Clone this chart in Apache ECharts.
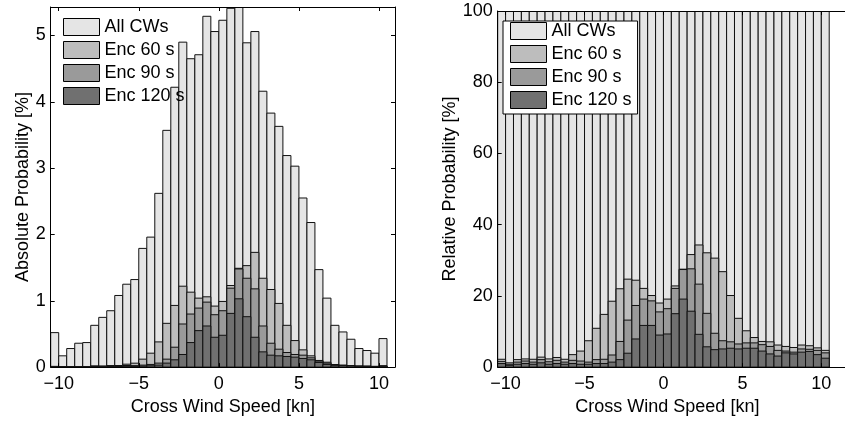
<!DOCTYPE html>
<html>
<head>
<meta charset="utf-8">
<script src="https://cdn.jsdelivr.net/npm/echarts@6/dist/echarts.min.js"></script>
<style>
  html, body { margin: 0; padding: 0; background: #fff; }
  #chart { width: 845px; height: 421px; }
</style>
</head>
<body>
<div id="chart"></div>
<script>
// ---------- data ----------
const binCenters = [-10.25,-9.75,-9.25,-8.75,-8.25,-7.75,-7.25,-6.75,-6.25,-5.75,-5.25,
  -4.75,-4.25,-3.75,-3.25,-2.75,-2.25,-1.75,-1.25,-0.75,-0.25,
  0.25,0.75,1.25,1.75,2.25,2.75,3.25,3.75,4.25,4.75,5.25,5.75,6.25,6.75,
  7.25,7.75,8.25,8.75,9.25,9.75,10.25];
const binWidth = 0.5;
const seriesNames = ['All CWs', 'Enc 60 s', 'Enc 90 s', 'Enc 120 s'];

// Absolute probability [%]
const absAll = [0.52,0.17,0.28,0.36,0.37,0.63,0.75,0.85,1.08,1.25,1.32,
  1.79,1.96,2.62,3.57,4.22,4.90,4.65,4.71,5.29,5.06,
  5.23,5.41,5.43,4.89,5.06,4.16,3.83,3.63,3.19,3.03,2.55,2.18,1.47,1.04,
  0.63,0.53,0.42,0.28,0.25,0.21,0.43];
const abs60 = [0.011,0.002,0.006,0.008,0.008,0.018,0.017,0.023,0.024,0.044,0.059,
  0.12,0.21,0.38,0.66,0.93,1.22,1.13,1.04,1.06,0.92,
  0.99,1.23,1.49,1.53,1.73,1.34,1.17,0.96,0.63,0.40,0.26,0.17,0.10,0.074,
  0.039,0.031,0.023,0.017,0.015,0.011,0.020];
const abs90 = [0.008,0.001,0.004,0.006,0.005,0.013,0.011,0.016,0.015,0.024,0.022,
  0.03,0.04,0.06,0.12,0.30,0.65,0.80,0.89,0.98,0.79,
  0.85,1.19,1.48,1.34,1.18,0.62,0.36,0.27,0.22,0.19,0.18,0.14,0.09,0.06,
  0.030,0.024,0.018,0.014,0.012,0.010,0.017];
const abs120 = [0.005,0.001,0.002,0.004,0.003,0.008,0.006,0.009,0.009,0.013,0.011,
  0.015,0.02,0.03,0.06,0.11,0.19,0.37,0.55,0.62,0.45,
  0.48,0.81,1.03,0.76,0.45,0.23,0.18,0.17,0.16,0.15,0.13,0.11,0.07,0.04,
  0.020,0.021,0.016,0.012,0.011,0.007,0.011];

// Relative probability [%]
const relAll = [100,100,100,100,100,100,100,100,100,100,100,
  100,100,100,100,100,100,100,100,100,100,
  100,100,100,100,100,100,100,100,100,100,100,100,100,100,
  100,100,100,100,100,100,100];
const rel60 = [2.2,1.2,2.1,2.3,2.2,2.8,2.3,2.7,2.2,3.5,4.5,
  7.4,10.9,14.8,18.5,22.0,24.7,24.4,22.1,20.1,18.0,
  19.1,22.8,27.5,31.6,34.3,32.1,30.6,26.8,20.1,13.7,10.2,8.3,7.2,7.1,
  6.2,5.8,5.5,6.2,6.0,5.4,4.7];
const rel90 = [1.6,0.8,1.4,1.7,1.4,2.1,1.5,1.9,1.4,1.9,1.7,
  1.4,2.1,2.2,3.4,7.2,13.2,17.3,19.1,18.6,15.5,
  16.4,22.1,27.4,27.6,23.3,15.1,9.5,7.4,7.1,6.5,6.8,6.8,6.3,5.8,
  4.7,4.5,4.2,5.1,5.0,4.7,4.0];
const rel120 = [1.0,0.5,0.8,1.0,0.8,1.2,0.8,1.0,0.8,1.0,0.8,
  0.8,1.0,1.0,1.4,2.1,3.9,7.9,11.7,11.7,9.0,
  9.3,15.0,19.1,15.7,9.2,5.7,4.9,5.1,5.3,5.1,5.3,5.3,4.5,3.7,
  3.1,4.0,3.7,4.2,4.4,3.5,2.5];

// tick labels
const xTicks = [-10, -5, 0, 5, 10];
const yTicksAbs = [0, 1, 2, 3, 4, 5];
const yTicksRel = [0, 20, 40, 60, 80, 100];

// ---------- styling ----------
const FONT = '"Liberation Sans", Arial, Helvetica, sans-serif';
const colors = ['#e5e5e5', '#bdbdbd', '#9a9a9a', '#707070'];

function fmt(v) { return v < 0 ? '\u2212' + Math.abs(v) : String(v); }

function renderItem(params, api) {
  const x = api.value(0), y = api.value(1);
  const p1 = api.coord([x - binWidth / 2, y]);
  const p2 = api.coord([x + binWidth / 2, 0]);
  return {
    type: 'rect',
    shape: { x: p1[0], y: p1[1], width: p2[0] - p1[0], height: p2[1] - p1[1] },
    style: { fill: api.visual('color'), stroke: '#111', lineWidth: 1 }
  };
}

function makeSeries(name, values, color, axisIdx) {
  return {
    type: 'custom', name: name,
    xAxisIndex: axisIdx.x, yAxisIndex: axisIdx.y,
    renderItem: renderItem, clip: true,
    itemStyle: { color: color },
    encode: { x: 0, y: 1 },
    data: binCenters.map((c, i) => [c, values[i]])
  };
}

const lineStyle = { color: '#000', width: 1 };

function xAxisBase(grid, pos, max, showLabel, name, namePad) {
  return {
    type: 'value', gridIndex: grid, position: pos, min: -10.5, max: max, z: 10,
    axisLine: { show: true, onZero: false, lineStyle: lineStyle },
    axisTick: { show: true, inside: true, length: 4, customValues: xTicks, lineStyle: lineStyle },
    axisLabel: { show: showLabel, customValues: xTicks, formatter: fmt, fontSize: 18, color: '#000', fontFamily: FONT, margin: 8 },
    splitLine: { show: false },
    name: name || '', nameLocation: 'middle', nameGap: 23,
    nameTextStyle: { fontSize: 18, color: '#000', fontFamily: FONT, padding: namePad || 0 }
  };
}

function yAxisBase(grid, pos, max, ticks, showLabel, name, nameGap) {
  return {
    type: 'value', gridIndex: grid, position: pos, min: 0, max: max, z: 10,
    axisLine: { show: true, onZero: false, lineStyle: lineStyle },
    axisTick: { show: true, inside: true, length: 4, customValues: ticks, lineStyle: lineStyle },
    axisLabel: { show: showLabel, customValues: ticks, fontSize: 18, color: '#000', fontFamily: FONT, margin: 5 },
    splitLine: { show: false },
    name: name || '', nameLocation: 'middle', nameGap: nameGap || 20,
    nameTextStyle: { fontSize: 18, color: '#000', fontFamily: FONT }
  };
}

const legendCommon = {
  orient: 'vertical', icon: 'rect', itemWidth: 36, itemHeight: 17, itemGap: 5,
  selectedMode: false,
  textStyle: { fontSize: 18, color: '#000', fontFamily: FONT },
  itemStyle: { borderColor: '#000', borderWidth: 1 },
  data: seriesNames
};

const absSets = [absAll, abs60, abs90, abs120];
const relSets = [relAll, rel60, rel90, rel120];

const series = [];
seriesNames.forEach((n, i) => series.push(makeSeries(n, absSets[i], colors[i], { x: 0, y: 0 })));
seriesNames.forEach((n, i) => series.push(makeSeries(n, relSets[i], colors[i], { x: 2, y: 2 })));

const option = {
  animation: false,
  backgroundColor: '#fff',
  grid: [
    { left: 50.7, top: 7, width: 344.3, height: 363 },
    { left: 497.7, top: 11, width: 349, height: 362.3 }
  ],
  xAxis: [
    xAxisBase(0, 'bottom', 11, true, 'Cross Wind Speed [kn]'),
    xAxisBase(0, 'top', 11, false),
    xAxisBase(1, 'bottom', 11.5, true, 'Cross Wind Speed [kn]', [0, 8, 0, 0]),
    xAxisBase(1, 'top', 11.5, false)
  ],
  yAxis: [
    yAxisBase(0, 'left', 5.43, yTicksAbs, true, 'Absolute Probability [%]', 19),
    yAxisBase(0, 'right', 5.43, yTicksAbs, false),
    yAxisBase(1, 'left', 100, yTicksRel, true, 'Relative Probability [%]', 33)
  ],
  legend: [
    Object.assign({}, legendCommon, { left: 63, top: 18, padding: 0 }),
    Object.assign({}, legendCommon, {
      left: 503, top: 21, padding: [1, 6, 5, 7],
      backgroundColor: '#fff', borderColor: '#000', borderWidth: 1
    })
  ],
  series: series
};

const chart = echarts.init(document.getElementById('chart'), null, { renderer: 'canvas' });
chart.setOption(option);
</script>
</body>
</html>
